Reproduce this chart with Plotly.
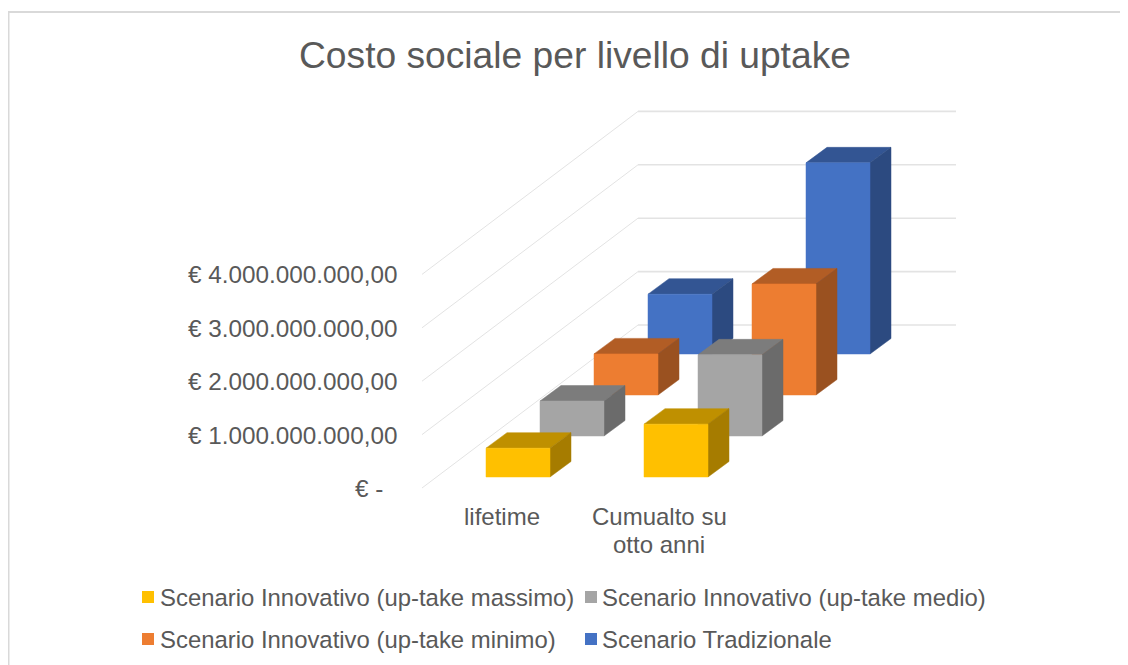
import plotly.graph_objects as go

# Data (values in billions of euro)
categories = ["lifetime", "Cumualto su<br>otto anni"]
series_names = [
    "Scenario Innovativo (up-take massimo)",
    "Scenario Innovativo (up-take medio)",
    "Scenario Innovativo (up-take minimo)",
    "Scenario Tradizionale",
]
massimo = [0.54, 0.99]
medio = [0.655, 1.52]
minimo = [0.77, 2.08]
tradizionale = [1.12, 3.58]
tick_values = [0, 1, 2, 3, 4]
tick_labels = ["€ -\u00a0\u00a0", "€ 1.000.000.000,00", "€ 2.000.000.000,00",
               "€ 3.000.000.000,00", "€ 4.000.000.000,00"]
title = "Costo sociale per livello di uptake"

front_colors = ["#FFC000", "#A5A5A5", "#ED7D31", "#4472C4"]
top_colors = ["#BF9000", "#7C7C7C", "#B25D25", "#335593"]
side_colors = ["#A67C00", "#6B6B6B", "#9A5120", "#2C4A80"]

values = [massimo, medio, minimo, tradizionale]

FONT = "Liberation Sans"
TXT = "#595959"
PX_PER_UNIT = 53.4


def bar_pt(cat, ser, val, u=0, d=0):
    """Oblique projection of a bar corner: u across the bar, d through its depth."""
    x = 486 + 158 * cat + 54 * ser + 64 * u + 21 * d
    y = 477 - 41 * ser - PX_PER_UNIT * val - 15.5 * d
    return x, y


def wall_pt(val, d):
    """Point on the left wall of the 3D box, d = 0 front, d = 1 back."""
    return 422 + 216 * d, 488 - 163 * d - PX_PER_UNIT * val


def face(points, color, name):
    xs = [p[0] for p in points] + [points[0][0]]
    ys = [p[1] for p in points] + [points[0][1]]
    return go.Scatter(x=xs, y=ys, mode="lines", fill="toself", fillcolor=color,
                      line=dict(color=color, width=0.5), name=name,
                      hoverinfo="name", showlegend=False)


fig = go.Figure()

# Gridlines: left wall plus back wall
for v in tick_values:
    x0, y0 = wall_pt(v, 0)
    x1, y1 = wall_pt(v, 1)
    fig.add_trace(go.Scatter(x=[x0, x1], y=[y0, y1], mode="lines",
                             line=dict(color="#E3E3E3", width=1),
                             hoverinfo="skip", showlegend=False))
    fig.add_trace(go.Scatter(x=[x1, 956], y=[y1, y1], mode="lines",
                             line=dict(color="#E3E3E3", width=1.6),
                             hoverinfo="skip", showlegend=False))

# Bars, painted from back to front
for s in reversed(range(len(values))):
    for c, val in enumerate(values[s]):
        name = series_names[s]
        fig.add_trace(face([bar_pt(c, s, val, 0, 0), bar_pt(c, s, val, 1, 0),
                            bar_pt(c, s, val, 1, 1), bar_pt(c, s, val, 0, 1)],
                           top_colors[s], name))
        fig.add_trace(face([bar_pt(c, s, 0, 1, 0), bar_pt(c, s, val, 1, 0),
                            bar_pt(c, s, val, 1, 1), bar_pt(c, s, 0, 1, 1)],
                           side_colors[s], name))
        fig.add_trace(face([bar_pt(c, s, 0, 0, 0), bar_pt(c, s, 0, 1, 0),
                            bar_pt(c, s, val, 1, 0), bar_pt(c, s, val, 0, 0)],
                           front_colors[s], name))

annotations = [dict(x=575, y=55, text=title, showarrow=False, xanchor="center",
                    yanchor="middle", font=dict(family=FONT, size=37.2, color=TXT))]

# Value axis labels
for v, lab in zip(tick_values, tick_labels):
    annotations.append(dict(x=399, y=wall_pt(v, 0)[1] + 0.5, text=lab, showarrow=False,
                            xanchor="right", yanchor="middle",
                            font=dict(family=FONT, size=24.3, color=TXT)))

# Category labels, line by line
cat_x = [502, 659]
for x, lab in zip(cat_x, categories):
    for i, line in enumerate(lab.split("<br>")):
        annotations.append(dict(x=x, y=516 + 28 * i, text=line, showarrow=False,
                                xanchor="center", yanchor="middle",
                                font=dict(family=FONT, size=24, color=TXT)))

# Legend
legend_x = [148, 591, 148, 591]
legend_y = [597, 597, 639, 639]
text_x = [158, 599.5, 158, 599.5]
for i, name in enumerate(series_names):
    fig.add_trace(go.Scatter(x=[legend_x[i]], y=[legend_y[i]], mode="markers",
                             marker=dict(symbol="square", size=12, color=front_colors[i]),
                             name=name, hoverinfo="name", showlegend=False))
    annotations.append(dict(x=text_x[i], y=legend_y[i], text=name, showarrow=False,
                            xanchor="left", yanchor="middle",
                            font=dict(family=FONT, size=23.9, color=TXT)))

# The page keeps an 8 px body margin, so the axes start at 8 to stay in page pixels
fig.update_layout(
    width=1120, height=657, margin=dict(l=0, r=0, t=0, b=0),
    paper_bgcolor="white", plot_bgcolor="white",
    xaxis=dict(range=[8, 1128], visible=False, fixedrange=True),
    yaxis=dict(range=[665, 8], visible=False, fixedrange=True),
    annotations=annotations,
)
# Chart frame drawn as page-level lines
fig.add_trace(go.Scatter(x=[8.5, 8.5], y=[665, 12], mode="lines",
                         line=dict(color="#D9D9D9", width=2), hoverinfo="skip",
                         showlegend=False, cliponaxis=False))
fig.add_trace(go.Scatter(x=[8, 1128], y=[12, 12], mode="lines",
                         line=dict(color="#D9D9D9", width=2), hoverinfo="skip",
                         showlegend=False, cliponaxis=False))
fig.write_html("out.html")
